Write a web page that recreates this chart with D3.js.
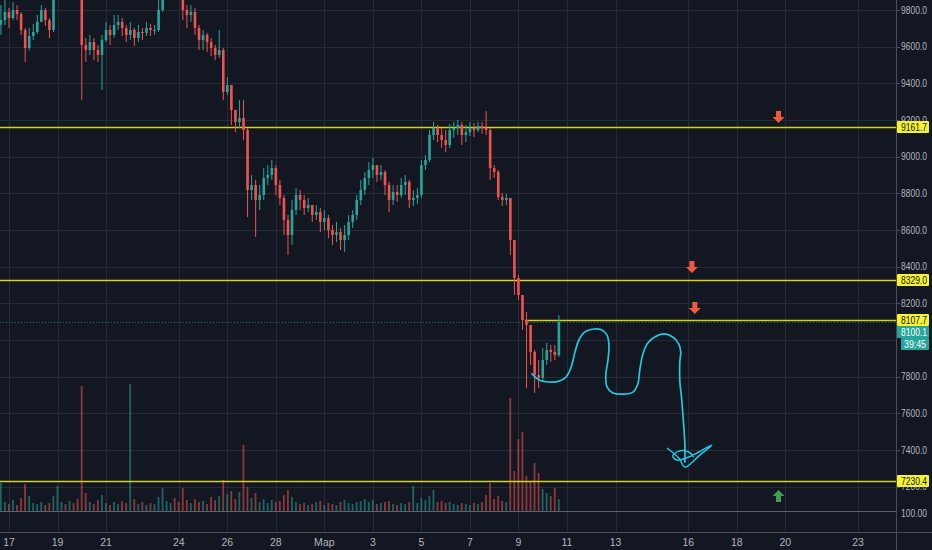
<!DOCTYPE html>
<html><head><meta charset="utf-8">
<script src="https://cdn.jsdelivr.net/npm/d3@7"></script>
<style>html,body{margin:0;padding:0;background:#131722;overflow:hidden}svg{display:block}</style>
</head><body><svg id="c" width="932" height="550"></svg>
<script>
// ---------- DATA ----------
const startTime = Date.UTC(2020, 1, 16, 16); // first 4h candle
const stepHours = 4;
const firstOpen = 9720;
const closes = [9745,9789,9756,9800,9778,9691,9593,9658,9680,9735,
9800,9745,9691,9960,10080,10150,10120,10180,10100,9980,
9609,9582,9625,9582,9555,9636,9691,9664,9718,9735,
9702,9664,9691,9647,9680,9675,9702,9691,9691,9800,
9920,9990,10050,10010,9950,9800,9773,9789,9702,9636,
9664,9625,9593,9555,9582,9353,9391,9255,9189,9211,
9145,8818,8845,8764,8791,8884,8900,8938,8845,8775,
8655,8573,8709,8791,8764,8720,8736,8682,8698,8644,
8665,8600,8573,8589,8545,8573,8644,8682,8764,8818,
8884,8927,8954,8900,8916,8845,8764,8807,8791,8845,
8862,8764,8775,8791,8954,8982,9118,9156,9118,9091,
9064,9145,9156,9173,9118,9134,9156,9145,9167,9156,
9145,8938,8916,8780,8764,8775,8545,8338,8245,8109,
8082,7935,7809,7793,7891,7945,7935,7918,8100.1];
const highs = [9827,9855,9811,9844,9827,9789,9702,9702,9724,9773,
9827,9811,9756,10010,10150,10220,10200,10250,10200,10130,
10000,9647,9664,9647,9609,9664,9735,9718,9773,9773,
9756,9718,9735,9702,9718,9702,9735,9724,9718,9855,
9980,10050,10100,10080,10030,9960,9827,9827,9811,9718,
9691,9675,9647,9609,9691,9593,9434,9391,9255,9309,
9309,9156,8900,8873,8845,8938,8954,8982,8954,8873,
8791,8682,8764,8829,8818,8791,8775,8736,8736,8720,
8709,8682,8627,8644,8611,8627,8682,8709,8791,8873,
8916,8971,8993,8954,8954,8927,8862,8845,8845,8884,
8900,8873,8818,8829,8982,9009,9145,9189,9173,9156,
9145,9178,9189,9200,9189,9173,9189,9184,9189,9189,
9249,9156,8954,8927,8802,8796,8775,8545,8355,8245,
8153,8082,7945,7891,7956,7984,7973,7973,8136];
const lows = [9664,9718,9702,9745,9745,9664,9516,9580,9636,9669,
9735,9713,9647,9680,9940,10050,10060,10100,10030,9900,
9309,9516,9555,9527,9516,9364,9625,9609,9650,9691,
9658,9625,9636,9604,9625,9636,9658,9658,9664,9680,
9790,9900,9960,9950,9880,9745,9702,9735,9664,9582,
9582,9571,9549,9527,9538,9309,9336,9173,9134,9156,
9091,8671,8764,8562,8709,8764,8845,8873,8791,8736,
8573,8464,8518,8682,8709,8682,8698,8644,8655,8589,
8600,8556,8518,8534,8491,8480,8545,8611,8655,8736,
8791,8845,8884,8862,8873,8791,8698,8736,8753,8775,
8791,8720,8731,8742,8775,8927,8971,9091,9080,9047,
9025,9047,9102,9118,9064,9080,9113,9107,9134,9124,
9118,8873,8884,8764,8731,8736,8464,8245,8218,8055,
7738,7864,7711,7738,7771,7864,7880,7891,7907];
const volumes = [2800,900,700,1100,600,1300,2700,1500,800,700,
900,600,800,1500,2500,900,700,1000,800,1200,
12500,1800,900,700,1100,1600,800,600,900,700,
1000,800,12700,1200,700,900,600,800,700,1400,
2300,1000,800,1300,900,2300,1100,800,1200,900,
1000,700,1400,1100,1500,3100,1700,2000,1200,1900,
6600,2400,1300,1800,900,1200,800,1100,900,1000,
1600,2100,1400,900,700,800,600,700,900,1000,
600,800,700,600,900,1100,800,700,900,1000,
1200,900,1100,700,800,900,1000,700,600,800,
700,900,2500,800,1300,1100,1500,2100,900,1000,
800,900,700,600,800,700,600,800,700,900,
1600,2800,1200,1500,1000,900,11300,4000,7200,7900,
3500,3000,4800,3800,2200,1800,1500,2300,1200];

const priceTicks = [9800,9600,9400,9200,9000,8800,8600,8400,8200,7800,7600,7400,7200];
const dateTicks = [["2020-02-17","17"],["2020-02-19","19"],["2020-02-21","21"],["2020-02-24","24"],
["2020-02-26","26"],["2020-02-28","28"],["2020-03-01","Мар"],["2020-03-03","3"],["2020-03-05","5"],
["2020-03-07","7"],["2020-03-09","9"],["2020-03-11","11"],["2020-03-13","13"],["2020-03-16","16"],
["2020-03-18","18"],["2020-03-20","20"],["2020-03-23","23"]];
const gridPrices = [9800,9600,9400,9200,9000,8800,8600,8400,8200,8000,7800,7600,7400,7200];
const levelLines = [9161.7, 8329.0, 7230.4];
const rayLevel = 8107.7, rayStartMarDay = 9.27;
const lastPrice = 8100.1, countdown = "39:45";
const volumeLabel = "100.00";
// freehand drawing: [day of March (fractional), price]
const drawMain = [[9.56,7815],[9.85,7782],[10.26,7771],[10.67,7776],[10.96,7798],[11.16,7847],[11.33,7934],
[11.49,8000],[11.74,8044],[12.11,8060],[12.44,8055],[12.65,8027],[12.73,7973],[12.69,7891],[12.60,7809],
[12.65,7744],[12.89,7711],[13.35,7705],[13.72,7716],[13.92,7760],[14.00,7836],[14.13,7924],[14.33,7984],
[14.62,8016],[14.99,8033],[15.36,8016],[15.61,7978],[15.69,7934],[15.65,7880],[15.65,7782],[15.73,7673],
[15.81,7536],[15.86,7427],[15.86,7334]];
const drawHead = [[15.12,7411],[15.61,7356],[15.86,7307],[16.43,7367],[16.97,7427],[16.43,7389],[16.02,7362],
[15.53,7345],[15.36,7367],[15.61,7394],[16.02,7389],[16.23,7362]];
const downArrows = [[19.72,9216],[16.15,8398],[16.27,8174]];
const upArrows = [[19.72,7149]];

// ---------- LAYOUT ----------
const W = 932, H = 550, plotR = 896, volBase = 511, axisY = 532;
const DAY = 864e5;
const feb17 = Date.UTC(2020,1,17);
const pxPerDay = 24.26;
const x = d3.scaleUtc().domain([new Date(feb17 - 9/pxPerDay*DAY), new Date(feb17 + (plotR-9)/pxPerDay*DAY)]).range([0, plotR]);
const y = d3.scaleLinear().domain([7400, 9800]).range([450, 10]);
const yv = d3.scaleLinear().domain([0, 14000]).range([volBase, volBase - 140]);
const marDate = d => new Date(Date.UTC(2020,2,1) + (d-1)*DAY);

const UP = "#26a69a", DOWN = "#ef5350", LEVEL = "#d4d418";
const svg = d3.select("#c");
svg.append("rect").attr("width", W).attr("height", H).attr("fill", "#131722");
svg.append("defs").append("clipPath").attr("id","clip").append("rect").attr("x",0).attr("y",0).attr("width",plotR).attr("height",volBase);

// grid
const grid = svg.append("g").attr("stroke", "#262a35").attr("stroke-width", 1);
grid.selectAll("line.h").data(gridPrices).join("line")
  .attr("x1", 0).attr("x2", plotR).attr("y1", d => Math.round(y(d))+0.5).attr("y2", d => Math.round(y(d))+0.5);
grid.selectAll("line.v").data(dateTicks).join("line")
  .attr("y1", 0).attr("y2", axisY).attr("x1", d => Math.round(x(new Date(d[0]+"T00:00:00Z")))+0.5).attr("x2", d => Math.round(x(new Date(d[0]+"T00:00:00Z")))+0.5);

// candles
const candles = closes.map((c, i) => {
  const o = i === 0 ? firstOpen : closes[i-1];
  return {t: new Date(startTime + i*stepHours*3600e3), o, c, h: Math.max(highs[i], o, c), l: Math.min(lows[i], o, c), v: volumes[i]};
});
const plot = svg.append("g").attr("clip-path", "url(#clip)");
const bw = 2.6;
// volume
plot.append("g").selectAll("rect").data(candles).join("rect")
  .attr("x", d => x(d.t) - 1).attr("width", 1.8)
  .attr("y", d => yv(d.v)).attr("height", d => volBase - yv(d.v))
  .attr("fill", d => d.c >= d.o ? UP : DOWN).attr("opacity", 0.55);

// level lines
plot.append("g").selectAll("line").data(levelLines).join("line")
  .attr("x1", 0).attr("x2", plotR).attr("y1", d => Math.round(y(d))+0.5).attr("y2", d => Math.round(y(d))+0.5)
  .attr("stroke", LEVEL).attr("stroke-width", 1.3);
plot.append("line").attr("x1", 0).attr("x2", plotR)
  .attr("y1", Math.round(y(lastPrice))+0.5).attr("y2", Math.round(y(lastPrice))+0.5)
  .attr("stroke", UP).attr("stroke-dasharray", "1,2").attr("opacity", 0.7);
plot.append("line").attr("x1", x(marDate(rayStartMarDay))).attr("x2", plotR)
  .attr("y1", Math.round(y(rayLevel))+0.5).attr("y2", Math.round(y(rayLevel))+0.5)
  .attr("stroke", LEVEL).attr("stroke-width", 1.3);

// wicks & bodies
const cg = plot.append("g");
cg.selectAll("line").data(candles).join("line")
  .attr("x1", d => x(d.t)).attr("x2", d => x(d.t))
  .attr("y1", d => y(d.h)).attr("y2", d => y(d.l))
  .attr("stroke", d => d.c >= d.o ? UP : DOWN).attr("stroke-width", 1);
cg.selectAll("rect").data(candles).join("rect")
  .attr("x", d => x(d.t) - bw/2).attr("width", bw)
  .attr("y", d => y(Math.max(d.o, d.c))).attr("height", d => Math.max(1, Math.abs(y(d.o) - y(d.c))))
  .attr("fill", d => d.c >= d.o ? UP : DOWN);

// freehand drawing
const line = d3.line().x(d => x(marDate(d[0]))).y(d => y(d[1])).curve(d3.curveCatmullRom.alpha(0.5));
plot.append("path").attr("d", line(drawMain)).attr("fill","none").attr("stroke","#22c7e0").attr("stroke-width",1.7).attr("stroke-linecap","round");
plot.append("path").attr("d", line(drawHead)).attr("fill","none").attr("stroke","#22c7e0").attr("stroke-width",1.5).attr("stroke-linejoin","round");

// arrows
const arrowDown = "M-2.5,-6 L2.5,-6 L2.5,0 L6,0 L0,6 L-6,0 L-2.5,0 Z";
plot.append("g").selectAll("path").data(downArrows).join("path")
  .attr("transform", d => `translate(${x(marDate(d[0]))},${y(d[1])})`).attr("d", arrowDown).attr("fill", "#f05a3c");
plot.append("g").selectAll("path").data(upArrows).join("path")
  .attr("transform", d => `translate(${x(marDate(d[0]))},${y(d[1])}) scale(1,-1)`).attr("d", arrowDown).attr("fill", "#3f9f55");

// pane borders
svg.append("line").attr("x1", 0).attr("x2", plotR).attr("y1", volBase+0.5).attr("y2", volBase+0.5).attr("stroke", "#5d606b");
svg.append("line").attr("x1", 0).attr("x2", W).attr("y1", axisY+0.5).attr("y2", axisY+0.5).attr("stroke", "#4a4d57");
svg.append("line").attr("x1", plotR+0.5).attr("x2", plotR+0.5).attr("y1", 0).attr("y2", H).attr("stroke", "#4a4d57");

const font = "'Liberation Sans', Arial, sans-serif";
const FS = 10;
// price axis
const ax = svg.append("g").attr("font-family", font).attr("font-size", FS).attr("fill", "#b2b5be");
ax.selectAll("text").data(priceTicks).join("text")
  .attr("x", 901).attr("y", d => y(d)).attr("dy", "0.35em")
  .attr("textLength", 26).attr("lengthAdjust", "spacingAndGlyphs").text(d => d3.format(".1f")(d));
ax.selectAll("line").data(priceTicks).join("line")
  .attr("x1", plotR).attr("x2", plotR+4).attr("y1", d => Math.round(y(d))+0.5).attr("y2", d => Math.round(y(d))+0.5).attr("stroke", "#4a4d57");
ax.append("text").attr("x", 901).attr("y", volBase+2).attr("dy","0.35em")
  .attr("textLength", 26).attr("lengthAdjust", "spacingAndGlyphs").text(volumeLabel);

// date axis
const dx = svg.append("g").attr("font-family", font).attr("font-size", 10.5).attr("fill", "#b2b5be").attr("text-anchor", "middle");
dx.selectAll("text").data(dateTicks).join("text")
  .attr("x", d => x(new Date(d[0]+"T00:00:00Z"))).attr("y", 546).text(d => d[1]);

// labels
function tag(p, txt, fill, col, yOff = 0, x0 = 897, tx = 901, tl = 26) {
  const yy = Math.round(y(p)) + yOff;
  svg.append("rect").attr("x", x0).attr("y", yy - 6).attr("width", 929 - x0).attr("height", 12).attr("fill", fill).attr("rx", 1);
  svg.append("text").attr("x", tx).attr("y", yy).attr("dy", "0.35em").attr("font-family", font).attr("font-size", FS)
    .attr("textLength", tl).attr("lengthAdjust", "spacingAndGlyphs").attr("fill", col).text(txt);
}
levelLines.forEach(p => tag(p, d3.format(".1f")(p), "#f5f230", "#131722"));
tag(rayLevel, d3.format(".1f")(rayLevel), "#f5f230", "#131722");
tag(lastPrice, d3.format(".1f")(lastPrice), UP, "#ffffff", 10);
tag(lastPrice, countdown, UP, "#ffffff", 22, 901, 904, 22);
</script></body></html>
